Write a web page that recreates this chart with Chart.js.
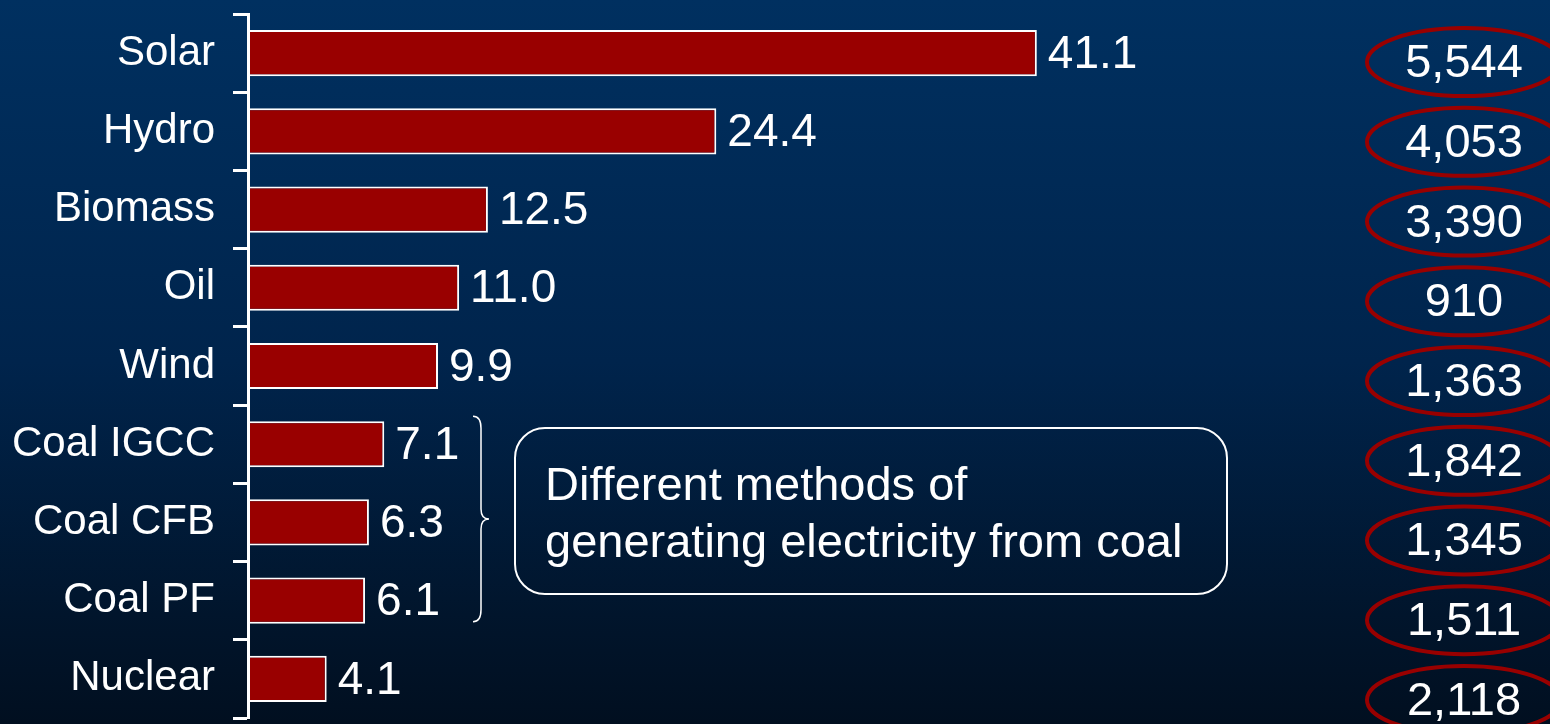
<!DOCTYPE html>
<html>
<head>
<meta charset="utf-8">
<script src="https://cdn.jsdelivr.net/npm/chart.js@4"></script>
<style>
  html, body { margin: 0; padding: 0; }
  body {
    width: 1550px; height: 724px; overflow: hidden;
    background: linear-gradient(to bottom, #003060 0%, #00244c 50%, #01152c 85%, #010f20 100%);
  }
  #chart { display: block; }
</style>
</head>
<body>
<canvas id="chart" width="1550" height="724"></canvas>
<script>
var categories = ["Solar", "Hydro", "Biomass", "Oil", "Wind", "Coal IGCC", "Coal CFB", "Coal PF", "Nuclear"];
var values = [41.1, 24.4, 12.5, 11.0, 9.9, 7.1, 6.3, 6.1, 4.1];
var circled = ["5,544", "4,053", "3,390", "910", "1,363", "1,842", "1,345", "1,511", "2,118"];
var noteLines = ["Different methods of", "generating electricity from coal"];
var coalFirst = 5, coalLast = 7;

var FONT = "'Liberation Sans', Arial, sans-serif";

// value next to each bar
var valueLabels = {
  id: "valueLabels",
  afterDatasetsDraw: function(chart) {
    var ctx = chart.ctx;
    var meta = chart.getDatasetMeta(0);
    ctx.save();
    ctx.fillStyle = "#fff";
    ctx.font = "46px " + FONT;
    ctx.textAlign = "left";
    ctx.textBaseline = "middle";
    meta.data.forEach(function(bar, i) {
      ctx.fillText(values[i].toFixed(1), bar.x + 11, bar.y + 2);
    });
    ctx.restore();
  }
};

// red ellipses on the right, the brace and the note box
var extras = {
  id: "extras",
  afterDraw: function(chart) {
    var ctx = chart.ctx;
    var y = chart.scales.y;
    ctx.save();

    // ellipses
    ctx.font = "47px " + FONT;
    ctx.textAlign = "center";
    ctx.textBaseline = "middle";
    circled.forEach(function(t, i) {
      var cy = y.getPixelForValue(i) + 9 + i * 1.5;
      ctx.beginPath();
      ctx.ellipse(1464, cy, 97, 34, 0, 0, Math.PI * 2);
      ctx.strokeStyle = "#990000";
      ctx.lineWidth = 4;
      ctx.stroke();
      ctx.fillStyle = "#fff";
      ctx.fillText(t, 1464, cy + 2);
    });

    // brace
    var top = y.getPixelForValue(coalFirst) - 28;
    var bot = y.getPixelForValue(coalLast) + 21;
    var mid = (top + bot) / 2;
    ctx.strokeStyle = "#fff";
    ctx.lineWidth = 1.5;
    ctx.beginPath();
    ctx.moveTo(473, top);
    ctx.bezierCurveTo(479, top, 481, top + 4, 481, top + 12);
    ctx.lineTo(481, mid - 10);
    ctx.bezierCurveTo(481, mid - 3, 484, mid, 489, mid);
    ctx.bezierCurveTo(484, mid, 481, mid + 3, 481, mid + 10);
    ctx.lineTo(481, bot - 12);
    ctx.bezierCurveTo(481, bot - 4, 479, bot, 473, bot);
    ctx.stroke();

    // rounded note box
    ctx.lineWidth = 2;
    ctx.beginPath();
    ctx.roundRect(515, 428, 712, 166, 30);
    ctx.stroke();
    ctx.fillStyle = "#fff";
    ctx.font = "47px " + FONT;
    ctx.textAlign = "left";
    ctx.textBaseline = "alphabetic";
    ctx.fillText(noteLines[0], 545, 500);
    ctx.fillText(noteLines[1], 545, 557);

    ctx.restore();
  }
};

new Chart(document.getElementById("chart"), {
  type: "bar",
  data: {
    labels: categories,
    datasets: [{
      data: values,
      backgroundColor: "#990000",
      borderColor: "#ffffff",
      borderWidth: 2,
      borderSkipped: false,
      categoryPercentage: 1,
      barPercentage: 0.59
    }]
  },
  options: {
    indexAxis: "y",
    responsive: false,
    animation: false,
    devicePixelRatio: 1,
    layout: { padding: { top: 14, bottom: 6, right: 208, left: 0 } },
    plugins: { legend: { display: false }, tooltip: { enabled: false } },
    scales: {
      x: { display: false, min: 0, max: 57 },
      y: {
        afterFit: function(s) { s.width = 248; s.paddingTop = 0; s.paddingBottom = 0; },
        grid: {
          offset: true,
          drawOnChartArea: false,
          drawTicks: true,
          tickLength: 15,
          tickColor: "#ffffff",
          tickWidth: 3
        },
        border: { display: true, color: "#ffffff", width: 3 },
        ticks: {
          color: "#ffffff",
          font: { family: FONT, size: 42 },
          padding: 18
        }
      }
    }
  },
  plugins: [valueLabels, extras]
});
</script>
</body>
</html>
